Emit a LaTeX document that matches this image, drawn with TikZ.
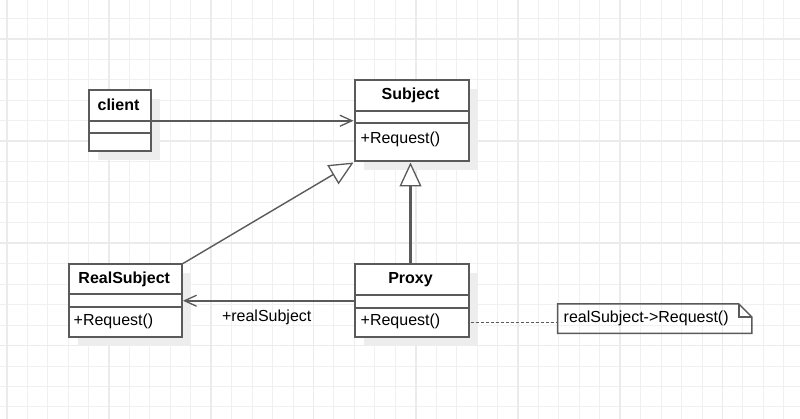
\documentclass[tikz,border=0pt]{standalone}
\usepackage{fontspec}
\setmainfont{Liberation Sans}
\usetikzlibrary{arrows.meta,shadows}
\definecolor{gridminor}{HTML}{F0F0F0}
\definecolor{gridmajor}{HTML}{EBEBEB}
\definecolor{linec}{HTML}{5A5A5A}
\definecolor{shadowc}{HTML}{EDEDED}
\begin{document}
\begin{tikzpicture}[x=1pt,y=-1pt,
  classbox/.style={draw=linec,line width=2pt,fill=white,inner sep=0pt,anchor=north west,
     general shadow={fill=shadowc,shadow xshift=9pt,shadow yshift=-9pt}},
  ctitle/.style={font=\fontsize{16}{19}\selectfont\bfseries,inner sep=0pt},
  cop/.style={font=\fontsize{16}{19}\selectfont,inner sep=0pt,anchor=west},
  divider/.style={draw=linec,line width=2pt},
  assoc/.style={draw=linec,line width=1.6pt,-{Straight Barb[length=12pt,width=11pt,line width=1.3pt]}},
  gen/.style={draw=linec,-{Triangle[length=24pt,width=22pt,fill=white,line width=1.3pt]}},
  notebox/.style={inner sep=0pt,anchor=north west,minimum width=194pt,minimum height=29pt},
]
\useasboundingbox (0,0) rectangle (800,419);
\fill[white] (0,0) rectangle (800,419);
% grid
\foreach \k in {0,...,38} \draw[gridminor,line width=1pt] ({6.7+20.45*\k},0) -- ({6.7+20.45*\k},419);
\foreach \k in {1,...,20} \draw[gridminor,line width=1pt] (0,{-2.1+20.45*\k}) -- (800,{-2.1+20.45*\k});
\foreach \k in {0,5,...,35} \draw[gridmajor,line width=1.6pt] ({6.7+20.45*\k},0) -- ({6.7+20.45*\k},419);
\foreach \k in {2,7,12,17} \draw[gridmajor,line width=1.6pt] (0,{-2.1+20.45*\k}) -- (800,{-2.1+20.45*\k});

% classes
\node[classbox,minimum width=62pt,minimum height=61.5pt] (client) at (87.5,89) {};
\node[classbox,minimum width=114pt,minimum height=81.5pt] (subject) at (353.5,79) {};
\node[classbox,minimum width=113.5pt,minimum height=72.5pt] (realsubject) at (67.5,263.5) {};
\node[classbox,minimum width=114pt,minimum height=72.5pt] (proxy) at (353.5,263.5) {};

% dividers
\draw[divider] (client.west |- 0,121) -- (client.east |- 0,121);
\draw[divider] (client.west |- 0,133) -- (client.east |- 0,133);
\draw[divider] (subject.west |- 0,111.5) -- (subject.east |- 0,111.5);
\draw[divider] (subject.west |- 0,123.5) -- (subject.east |- 0,123.5);
\draw[divider] (realsubject.west |- 0,294.5) -- (realsubject.east |- 0,294.5);
\draw[divider] (realsubject.west |- 0,307.5) -- (realsubject.east |- 0,307.5);
\draw[divider] (proxy.west |- 0,295) -- (proxy.east |- 0,295);
\draw[divider] (proxy.west |- 0,308) -- (proxy.east |- 0,308);

% texts
\node[ctitle] (clientT) at (118.5,105) {client};
\node[ctitle] (subjectT) at (410.5,95) {Subject};
\node[ctitle] (realsubjectT) at (124.25,279) {RealSubject};
\node[ctitle] (proxyT) at (410.5,279.5) {Proxy};
\node[cop] (subjectOp) at (360.5,139) {+Request()};
\node[cop] (realsubjectOp) at (73.5,321.5) {+Request()};
\node[cop] (proxyOp) at (360.5,321.5) {+Request()};

% note
\node[notebox] (note) at (557.5,304) {};
\draw[linec,line width=1.5pt,line join=miter]
  (note.north west) -- ([xshift=-13pt]note.north east) -- ([yshift=-13pt]note.north east)
  -- (note.south east) -- (note.south west) -- cycle;
\draw[linec,line width=1.2pt]
  ([xshift=-13pt]note.north east) -- ([xshift=-13pt,yshift=-13pt]note.north east) -- ([yshift=-13pt]note.north east);
\node[cop] (noteT) at (563.5,318.5) {realSubject->Request()};

% connectors
\draw[assoc] (client.east) -- (client.east -| subject.west);
\draw[gen,line width=1.4pt] (realsubject.north east) -- (subject.south west);
\draw[gen,line width=3pt] ([xshift=-1pt]proxy.north) -- ([xshift=-1pt]subject.south);
\draw[assoc] (proxy.west) -- (realsubject.east);
\node[cop,anchor=center] (rslabel) at (266.7,317.5) {+realSubject};
\coordinate (dotstart) at ([xshift=1pt,yshift=-22pt]proxy.east);
\draw[linec,line width=1.3pt,dash pattern=on 3pt off 2pt] (dotstart) -- (dotstart -| note.west);
\end{tikzpicture}
\end{document}
